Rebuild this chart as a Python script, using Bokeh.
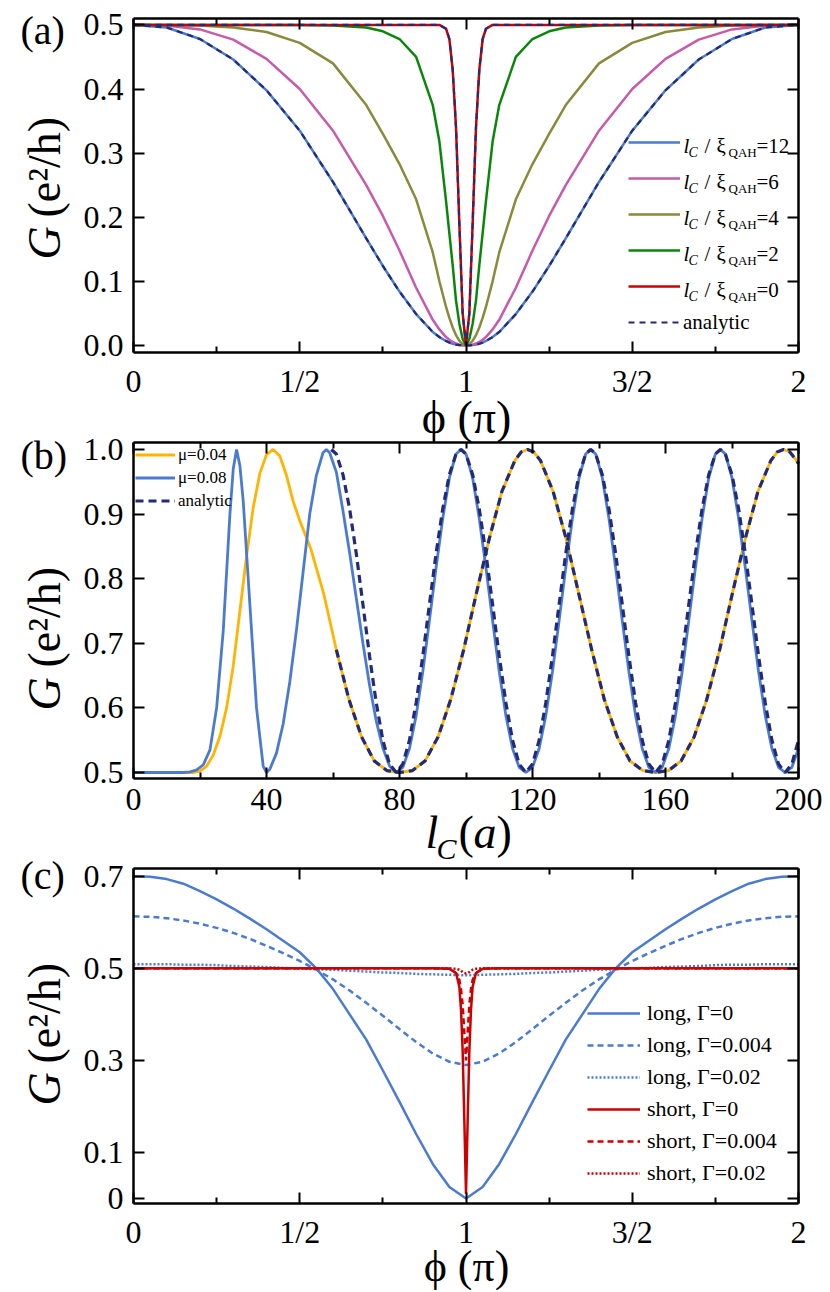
import math
from bokeh.plotting import figure
from bokeh.models import Range1d, LinearAxis, FixedTicker, Label, Legend, LegendItem
from bokeh.embed import file_html
from bokeh.resources import INLINE

# ---------------- data: panel (a) ----------------
phi_a = [0.0, 0.1, 0.2, 0.3, 0.4, 0.5, 0.6, 0.7, 0.75, 0.8, 0.85, 0.9, 0.92, 0.94, 0.95, 0.96, 0.97, 0.98, 0.99,
         1.0, 1.01, 1.02, 1.03, 1.04, 1.05, 1.06, 1.08, 1.1, 1.15, 1.2, 1.25, 1.3, 1.4, 1.5, 1.6, 1.7, 1.8, 1.9, 2.0]
G_lc12 = [0.5, 0.496, 0.478, 0.446, 0.398, 0.335, 0.255, 0.167, 0.124, 0.084, 0.049, 0.021, 0.013, 0.007, 0.0045, 0.0027, 0.0014, 0.0006, 0.0002,
          0.0, 0.0002, 0.0006, 0.0014, 0.0027, 0.0045, 0.007, 0.013, 0.021, 0.049, 0.084, 0.124, 0.167, 0.255, 0.335, 0.398, 0.446, 0.478, 0.496, 0.5]
G_lc6 = [0.5, 0.499, 0.493, 0.477, 0.447, 0.4, 0.335, 0.25, 0.202, 0.148, 0.09, 0.04, 0.025, 0.013, 0.009, 0.0055, 0.003, 0.0013, 0.0003,
         0.0, 0.0003, 0.0013, 0.003, 0.0055, 0.009, 0.013, 0.025, 0.04, 0.09, 0.148, 0.202, 0.25, 0.335, 0.4, 0.447, 0.477, 0.493, 0.499, 0.5]
G_lc4 = [0.5, 0.5, 0.499, 0.496, 0.489, 0.472, 0.44, 0.375, 0.33, 0.283, 0.228, 0.145, 0.1, 0.06, 0.043, 0.028, 0.016, 0.007, 0.002,
         0.0, 0.002, 0.007, 0.016, 0.028, 0.043, 0.06, 0.1, 0.145, 0.228, 0.283, 0.33, 0.375, 0.44, 0.472, 0.489, 0.496, 0.499, 0.5, 0.5]
G_lc2 = [0.5, 0.5, 0.5, 0.5, 0.5, 0.5, 0.499, 0.496, 0.49, 0.478, 0.45, 0.375, 0.318, 0.225, 0.175, 0.125, 0.07, 0.034, 0.01,
         0.0, 0.01, 0.034, 0.07, 0.125, 0.175, 0.225, 0.318, 0.375, 0.45, 0.478, 0.49, 0.496, 0.499, 0.5, 0.5, 0.5, 0.5, 0.5, 0.5]
G_lc0 = [0.5, 0.5, 0.5, 0.5, 0.5, 0.5, 0.5, 0.5, 0.5, 0.5, 0.5, 0.5, 0.5, 0.494, 0.478, 0.43, 0.34, 0.19, 0.05,
         0.0, 0.05, 0.19, 0.34, 0.43, 0.478, 0.494, 0.5, 0.5, 0.5, 0.5, 0.5, 0.5, 0.5, 0.5, 0.5, 0.5, 0.5, 0.5, 0.5]
G_an_long = [0.5, 0.496, 0.478, 0.446, 0.398, 0.335, 0.255, 0.167, 0.124, 0.084, 0.049, 0.021, 0.013, 0.007, 0.0045, 0.0027, 0.0014, 0.0006, 0.0002,
             0.0, 0.0002, 0.0006, 0.0014, 0.0027, 0.0045, 0.007, 0.013, 0.021, 0.049, 0.084, 0.124, 0.167, 0.255, 0.335, 0.398, 0.446, 0.478, 0.496, 0.5]
G_an_short = [0.5, 0.5, 0.5, 0.5, 0.5, 0.5, 0.5, 0.5, 0.5, 0.5, 0.5, 0.5, 0.5, 0.494, 0.478, 0.43, 0.34, 0.19, 0.05,
              0.0, 0.05, 0.19, 0.34, 0.43, 0.478, 0.494, 0.5, 0.5, 0.5, 0.5, 0.5, 0.5, 0.5, 0.5, 0.5, 0.5, 0.5, 0.5, 0.5]
lc_ratio_labels = ["12", "6", "4", "2", "0"]

# ---------------- data: panel (b) ----------------
lc_mu08 = [0, 5, 10, 15, 17, 19, 21, 23, 25, 27, 29, 30, 31, 32, 33, 35, 37, 39, 40,
           41, 43, 45, 47, 49, 51, 53, 55, 57, 58, 59, 61, 63, 65, 67, 69, 71, 73, 75, 77,
           79, 81, 83, 85, 87, 89, 91, 93, 95, 97, 98.5, 100, 102, 104, 106, 108, 110, 112, 114, 116,
           118, 120, 122, 124, 126, 128, 130, 132, 134, 136, 137.5, 139, 141, 143, 145, 147, 149, 151, 153, 155,
           157, 159, 161, 163, 165, 167, 169, 171, 173, 175, 176.5, 178, 180, 182, 184, 186, 188, 190, 192, 194,
           196, 198, 200]
G_mu08 = [0.5, 0.5, 0.5, 0.5, 0.501, 0.504, 0.512, 0.535, 0.6, 0.72, 0.9, 0.97, 1.0, 0.975, 0.92, 0.76, 0.6, 0.51, 0.5,
          0.505, 0.53, 0.575, 0.64, 0.72, 0.81, 0.9, 0.96, 0.995, 1.0, 0.995, 0.965, 0.905, 0.84, 0.77, 0.7, 0.635, 0.58, 0.538, 0.51,
          0.5, 0.508, 0.537, 0.588, 0.656, 0.735, 0.817, 0.893, 0.956, 0.993, 1.0, 0.993, 0.956, 0.893, 0.817, 0.735, 0.656, 0.588, 0.537, 0.508,
          0.5, 0.508, 0.537, 0.588, 0.656, 0.735, 0.817, 0.893, 0.956, 0.993, 1.0, 0.993, 0.956, 0.893, 0.817, 0.735, 0.656, 0.588, 0.537, 0.508,
          0.5, 0.508, 0.537, 0.588, 0.656, 0.735, 0.817, 0.893, 0.956, 0.993, 1.0, 0.993, 0.956, 0.893, 0.817, 0.735, 0.656, 0.588, 0.537, 0.508,
          0.5, 0.508, 0.537]
lc_an08 = [59.5, 61, 63, 65, 67, 69, 71, 73, 75, 77,
           79, 81, 83, 85, 87, 89, 91, 93, 95, 97, 98.5, 100, 102, 104, 106, 108, 110, 112, 114, 116,
           118, 120, 122, 124, 126, 128, 130, 132, 134, 136, 137.5, 139, 141, 143, 145, 147, 149, 151, 153, 155,
           157, 159, 161, 163, 165, 167, 169, 171, 173, 175, 176.5, 178, 180, 182, 184, 186, 188, 190, 192, 194,
           196, 198, 200]
G_an08 = [1.0, 0.993, 0.961, 0.908, 0.839, 0.76, 0.68, 0.608, 0.55, 0.513,
          0.5, 0.513, 0.55, 0.608, 0.68, 0.76, 0.839, 0.908, 0.961, 0.993, 1.0, 0.993, 0.961, 0.908, 0.839, 0.76, 0.68, 0.608, 0.55, 0.513,
          0.5, 0.513, 0.55, 0.608, 0.68, 0.76, 0.839, 0.908, 0.961, 0.993, 1.0, 0.993, 0.961, 0.908, 0.839, 0.76, 0.68, 0.608, 0.55, 0.513,
          0.5, 0.513, 0.55, 0.608, 0.68, 0.76, 0.839, 0.908, 0.961, 0.993, 1.0, 0.993, 0.961, 0.908, 0.839, 0.76, 0.68, 0.608, 0.55, 0.513,
          0.5, 0.513, 0.55]
lc_mu04 = [0, 5, 10, 15, 18, 20, 22, 24, 26, 28, 30, 32, 34, 36, 38, 40, 42, 44, 46, 48, 50,
           53.4, 57.2, 61, 64.8, 68.6, 72.4, 76.2, 80,
           83.9, 87.7, 91.6, 95.4, 99.3, 103.1, 107, 110.8, 114.7, 116.6, 118.5, 120.4,
           122.4, 126.2, 130.1, 133.9, 137.8, 141.6, 145.5, 149.3, 153.2, 157,
           160.9, 164.7, 168.6, 172.4, 176.3, 180.1, 184, 187.8, 191.7, 193.6, 195.5, 197.4,
           199.4, 200]
G_mu04 = [0.5, 0.5, 0.5, 0.5, 0.5, 0.502, 0.51, 0.527, 0.556, 0.6, 0.665, 0.75, 0.835, 0.91, 0.963, 0.992, 1.0, 0.99, 0.96, 0.92, 0.89,
          0.845, 0.777, 0.69, 0.613, 0.555, 0.518, 0.503, 0.5,
          0.503, 0.518, 0.555, 0.613, 0.69, 0.777, 0.862, 0.935, 0.983, 0.996, 1.0, 0.996,
          0.983, 0.935, 0.862, 0.777, 0.69, 0.613, 0.555, 0.518, 0.503, 0.5,
          0.503, 0.518, 0.555, 0.613, 0.69, 0.777, 0.862, 0.935, 0.983, 0.996, 1.0, 0.996,
          0.983, 0.978]
lc_an04 = [61, 64.8, 68.6, 72.4, 76.2, 80,
           83.9, 87.7, 91.6, 95.4, 99.3, 103.1, 107, 110.8, 114.7, 116.6, 118.5, 120.4,
           122.4, 126.2, 130.1, 133.9, 137.8, 141.6, 145.5, 149.3, 153.2, 157,
           160.9, 164.7, 168.6, 172.4, 176.3, 180.1, 184, 187.8, 191.7, 193.6, 195.5, 197.4,
           199.4, 200]
G_an04 = [0.69, 0.613, 0.555, 0.518, 0.503, 0.5,
          0.503, 0.518, 0.555, 0.613, 0.69, 0.777, 0.862, 0.935, 0.983, 0.996, 1.0, 0.996,
          0.983, 0.935, 0.862, 0.777, 0.69, 0.613, 0.555, 0.518, 0.503, 0.5,
          0.503, 0.518, 0.555, 0.613, 0.69, 0.777, 0.862, 0.935, 0.983, 0.996, 1.0, 0.996,
          0.983, 0.978]

# ---------------- data: panel (c) ----------------
phi_c = [0.0, 0.05, 0.1, 0.15, 0.2, 0.25, 0.3, 0.35, 0.4, 0.45, 0.5, 0.55, 0.6, 0.65, 0.7, 0.75, 0.8, 0.85, 0.9, 0.95,
         1.0, 1.05, 1.1, 1.15, 1.2, 1.25, 1.3, 1.35, 1.4, 1.45, 1.5, 1.55, 1.6, 1.65, 1.7, 1.75, 1.8, 1.85, 1.9, 1.95, 2.0]
G_long_0 = [0.7, 0.699, 0.694, 0.684, 0.668, 0.65, 0.63, 0.608, 0.585, 0.56, 0.535, 0.5, 0.455, 0.4, 0.345, 0.278, 0.21, 0.14, 0.075, 0.025,
            0.0, 0.025, 0.075, 0.14, 0.21, 0.278, 0.345, 0.4, 0.455, 0.5, 0.535, 0.56, 0.585, 0.608, 0.63, 0.65, 0.668, 0.684, 0.694, 0.699, 0.7]
G_long_004 = [0.613, 0.612, 0.609, 0.604, 0.597, 0.588, 0.577, 0.564, 0.549, 0.533, 0.516, 0.497, 0.476, 0.452, 0.425, 0.397, 0.368, 0.34, 0.315, 0.297,
              0.29, 0.297, 0.315, 0.34, 0.368, 0.397, 0.425, 0.452, 0.476, 0.497, 0.516, 0.533, 0.549, 0.564, 0.577, 0.588, 0.597, 0.604, 0.609, 0.612, 0.613]
G_long_02 = [0.509, 0.509, 0.509, 0.508, 0.508, 0.507, 0.505, 0.504, 0.503, 0.501, 0.5, 0.498, 0.497, 0.495, 0.493, 0.491, 0.49, 0.488, 0.487, 0.486,
             0.485, 0.486, 0.487, 0.488, 0.49, 0.491, 0.493, 0.495, 0.497, 0.498, 0.5, 0.501, 0.503, 0.504, 0.505, 0.507, 0.508, 0.508, 0.509, 0.509, 0.509]
phi_s = [0.0, 0.5, 0.9, 0.95, 0.97, 0.98, 0.985, 0.99, 0.995, 1.0, 1.005, 1.01, 1.015, 1.02, 1.03, 1.05, 1.1, 1.5, 2.0]
G_short_0 = [0.5, 0.5, 0.5, 0.499, 0.49, 0.46, 0.41, 0.32, 0.17, 0.01, 0.17, 0.32, 0.41, 0.46, 0.49, 0.499, 0.5, 0.5, 0.5]
G_short_004 = [0.5, 0.5, 0.5, 0.499, 0.49, 0.475, 0.455, 0.42, 0.36, 0.3, 0.36, 0.42, 0.455, 0.475, 0.49, 0.499, 0.5, 0.5, 0.5]
G_short_02 = [0.5, 0.5, 0.5, 0.5, 0.499, 0.497, 0.495, 0.492, 0.49, 0.489, 0.49, 0.492, 0.495, 0.497, 0.499, 0.5, 0.5, 0.5, 0.5]

# ---------------- ticks ----------------
phi_ticks = [0, 0.5, 1, 1.5, 2]
phi_tick_labels = ["0", "1/2", "1", "3/2", "2"]
phi_minor = [0.25, 0.75, 1.25, 1.75]
ya_ticks = [0, 0.1, 0.2, 0.3, 0.4, 0.5]
ya_labels = ["0.0", "0.1", "0.2", "0.3", "0.4", "0.5"]
xb_ticks = [0, 40, 80, 120, 160, 200]
xb_labels = ["0", "40", "80", "120", "160", "200"]
xb_minor = [20, 60, 100, 140, 180]
yb_ticks = [0.5, 0.6, 0.7, 0.8, 0.9, 1]
yb_labels = ["0.5", "0.6", "0.7", "0.8", "0.9", "1.0"]
yc_ticks = [0, 0.1, 0.3, 0.5, 0.7]
yc_labels = ["0", "0.1", "0.3", "0.5", "0.7"]

# ---------------- style / geometry ----------------
FONT = "Liberation Serif"
C_BLUE = "#4a7bd0"
C_PINK = "#c65aab"
C_OLIVE = "#8a8a3c"
C_GREEN = "#0a860a"
C_RED = "#cc0000"
C_NAVY = "#232b78"
C_ORANGE = "#ffb400"

W, H = 828, 1290
PL, PR = 133, 798
GEO = {
    "a": dict(top=18, bot=352, x=(0, 2), y=(-0.011, 0.510)),
    "b": dict(top=442, bot=778, x=(0, 200), y=(0.4907, 1.0108)),
    "c": dict(top=868, bot=1203, x=(0, 2), y=(-0.011, 0.717)),
}

p = figure(width=W, height=H, x_range=Range1d(0, W), y_range=Range1d(H, 0),
           x_axis_type=None, y_axis_type=None, output_backend="svg", toolbar_location=None,
           min_border=0, min_border_left=0, min_border_right=0, min_border_top=0, min_border_bottom=0)
p.outline_line_color = None
p.background_fill_color = "white"
p.border_fill_color = "white"

xr_extra, yr_extra = {}, {}
for n, g in GEO.items():
    x0, x1 = g["x"]
    y0, y1 = g["y"]
    sx = (PR - PL) / (x1 - x0)
    sy = (g["bot"] - g["top"]) / (y1 - y0)
    xr_extra["x" + n] = Range1d(x0 - PL / sx, x1 + (W - PR) / sx)
    yr_extra["y" + n] = Range1d(y0 - (H - g["bot"]) / sy, y1 + g["top"] / sy)
p.extra_x_ranges = xr_extra
p.extra_y_ranges = yr_extra


def style_axis(ax, ticks, labels, minor, loc, bounds, show):
    ax.ticker = FixedTicker(ticks=ticks, minor_ticks=minor)
    ax.major_label_overrides = {t: l for t, l in zip(ticks, labels)}
    ax.fixed_location = loc
    ax.bounds = bounds
    ax.axis_line_width = 2.5
    ax.axis_line_color = "black"
    ax.major_tick_in = 11
    ax.major_tick_out = 0
    ax.minor_tick_in = 6
    ax.minor_tick_out = 0
    ax.major_tick_line_width = 2
    ax.minor_tick_line_width = 2
    ax.major_tick_line_color = "black"
    ax.minor_tick_line_color = "black"
    ax.major_label_text_font = FONT
    ax.major_label_text_color = "black"
    ax.major_label_text_font_size = "32px"
    ax.major_label_standoff = 10
    if not show:
        ax.major_label_text_alpha = 0


def add_axes(n, xt, xl, xm, yt, yl, ym):
    g = GEO[n]
    x0, x1 = g["x"]
    y0, y1 = g["y"]
    kw = dict(x_range_name="x" + n, y_range_name="y" + n)
    for side, loc, show in (("below", y0, True), ("above", y1, False)):
        ax = LinearAxis(**kw)
        style_axis(ax, xt, xl, xm, loc, (x0, x1), show)
        p.add_layout(ax, side)
    for side, loc, show in (("left", x0, True), ("right", x1, False)):
        ax = LinearAxis(**kw)
        style_axis(ax, yt, yl, ym, loc, (y0, y1), show)
        p.add_layout(ax, side)


def line(n, x, y, **kw):
    return p.line(x, y, x_range_name="x" + n, y_range_name="y" + n, **kw)


def txt(px, py, text, size, style="normal", align="left", angle=0.0):
    p.add_layout(Label(x=px, y=py, text=text, text_font=FONT, text_font_size=f"{size}px",
                       text_font_style=style, text_align=align, text_baseline="middle",
                       angle=angle, text_color="black"))


def ytitle(g_start, paren_start):
    txt(44, g_start, "G", 46, "italic", angle=math.pi / 2)
    txt(44, paren_start, "(e²/h)", 46, angle=math.pi / 2)


def mklegend(items, left_px, bottom_px, gw, gh, standoff, fsize):
    leg = Legend(items=[LegendItem(label=lab, renderers=[r]) for lab, r in items],
                 location=(left_px, H - bottom_px), orientation="vertical",
                 glyph_width=gw, glyph_height=gh, label_height=gh, spacing=0, padding=0, margin=0,
                 label_standoff=standoff, border_line_alpha=0, background_fill_alpha=0,
                 label_text_font=FONT, label_text_font_size=f"{fsize}px", label_text_color="black")
    p.add_layout(leg)


# ================= panel (a) =================
add_axes("a", phi_ticks, phi_tick_labels, phi_minor, ya_ticks, ya_labels, [])
r12 = line("a", phi_a, G_lc12, line_color=C_BLUE, line_width=2.5)
r6 = line("a", phi_a, G_lc6, line_color=C_PINK, line_width=2.5)
r4 = line("a", phi_a, G_lc4, line_color=C_OLIVE, line_width=2.5)
r2 = line("a", phi_a, G_lc2, line_color=C_GREEN, line_width=2.5)
r0 = line("a", phi_a, G_lc0, line_color=C_RED, line_width=2.5)
ran1 = line("a", phi_a, G_an_long, line_color=C_NAVY, line_width=2.2, line_dash="6 5")
ran2 = line("a", phi_a, G_an_short, line_color=C_NAVY, line_width=2.2, line_dash="6 5")
mklegend([(" ", r12), (" ", r6), (" ", r4), (" ", r2), (" ", r0), ("analytic", ran1)],
         628, 340, 52, 36, 3, 21)
for val, cy in zip(lc_ratio_labels, [142, 178, 214, 250, 286]):
    txt(683, cy + 3, "l", 21, "italic")
    txt(688, cy + 10, "C", 14, "italic")
    txt(704, cy + 3, "/", 21)
    txt(716, cy + 3, "ξ", 21)
    txt(728, cy + 10, "QAH", 13)
    txt(756, cy + 3, "=" + val, 21)
txt(20, 30, "(a)", 40)
ytitle(259, 217)
txt(466, 417, "ϕ (π)", 46, align="center")

# ================= panel (b) =================
add_axes("b", xb_ticks, xb_labels, xb_minor, yb_ticks, yb_labels, [])
rb04 = line("b", lc_mu04, G_mu04, line_color=C_ORANGE, line_width=2.8)
rb08 = line("b", lc_mu08, G_mu08, line_color=C_BLUE, line_width=2.8)
rban04 = line("b", lc_an04, G_an04, line_color=C_NAVY, line_width=3.2, line_dash="8 5")
rban08 = line("b", lc_an08, G_an08, line_color=C_NAVY, line_width=3.2, line_dash="8 5")
mklegend([("μ=0.04", rb04), ("μ=0.08", rb08), ("analytic", rban08)],
         135, 512, 40, 23, 3, 17)
txt(20, 455, "(b)", 40)
ytitle(710, 667)
txt(425, 832, "l", 46, "italic")
txt(436, 848, "C", 30, "italic")
txt(458, 832, "(", 46)
txt(473, 832, "a", 46, "italic")
txt(496, 832, ")", 46)

# ================= panel (c) =================
add_axes("c", phi_ticks, phi_tick_labels, phi_minor, yc_ticks, yc_labels, [])
rl0 = line("c", phi_c, G_long_0, line_color=C_BLUE, line_width=2.5)
rl1 = line("c", phi_c, G_long_004, line_color=C_BLUE, line_width=2.5, line_dash="6 4")
rl2 = line("c", phi_c, G_long_02, line_color=C_BLUE, line_width=2.5, line_dash="2 2")
rs0 = line("c", phi_s, G_short_0, line_color=C_RED, line_width=2.5)
rs1 = line("c", phi_s, G_short_004, line_color=C_RED, line_width=2.5, line_dash="6 4")
rs2 = line("c", phi_s, G_short_02, line_color=C_RED, line_width=2.5, line_dash="2 2")
mklegend([("long, Γ=0", rl0), ("long, Γ=0.004", rl1), ("long, Γ=0.02", rl2),
          ("short, Γ=0", rs0), ("short, Γ=0.004", rs1), ("short, Γ=0.02", rs2)],
         587, 1189, 53, 32, 7, 22)
txt(20, 875, "(c)", 40)
ytitle(1105, 1063)
txt(466, 1266, "ϕ (π)", 44, align="center")

open("out.html", "w").write(file_html(p, INLINE))
